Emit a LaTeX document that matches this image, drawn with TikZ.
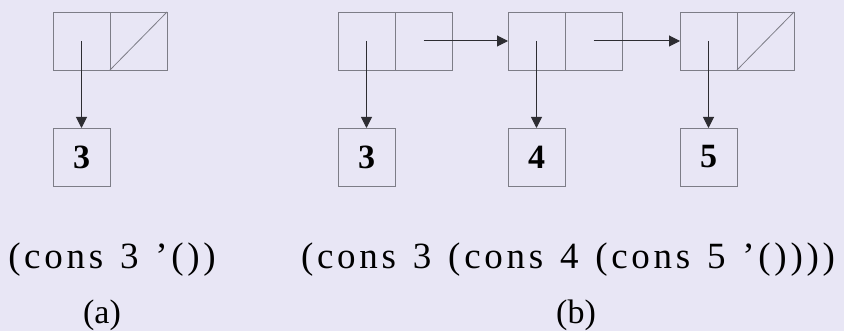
\documentclass[tikz,border=0pt]{standalone}
\usepackage{fontspec}
\setmainfont{Liberation Serif}
\newfontfamily\spacedfont[LetterSpace=10,WordSpace=1.3]{Liberation Serif}
\usetikzlibrary{arrows.meta}
\definecolor{bgcol}{RGB}{232,230,245}
\definecolor{cellline}{RGB}{125,125,135}
\definecolor{arrowcol}{RGB}{45,45,50}
\tikzset{
  cellpart/.style={draw=cellline, line width=0.8pt, minimum width=57pt, minimum height=58pt, inner sep=0pt, outer sep=0pt},
  valbox/.style={draw=cellline, line width=0.8pt, minimum width=57pt, minimum height=58pt, inner sep=0pt, outer sep=0pt, font=\fontsize{34}{38}\selectfont\bfseries},
  ptr/.style={draw=arrowcol, line width=1pt, -{Triangle[length=11pt,width=11pt]}},
  nilline/.style={draw=cellline, line width=0.8pt},
  expr/.style={font=\spacedfont\fontsize{37}{42}\selectfont, inner sep=0pt},
  caption/.style={font=\fontsize{34}{38}\selectfont, inner sep=0pt}
}
\begin{document}
\begin{tikzpicture}[x=1pt,y=-1pt]
\fill[bgcol] (0,0) rectangle (844,331);
\useasboundingbox (0,0) rectangle (844,331);
% (a)
\node[cellpart] (acar) at (81.5,41) {};
\node[cellpart] (acdr) at (138.5,41) {};
\draw[nilline] (acdr.south west) -- (acdr.north east);
\node[valbox] (a3) at (81.5,157) {3};
\draw[ptr] (acar.center) -- (a3.north);
% (b)
\node[cellpart] (b1car) at (366.5,41) {};
\node[cellpart] (b1cdr) at (423.5,41) {};
\node[cellpart] (b2car) at (536.5,41) {};
\node[cellpart] (b2cdr) at (593.5,41) {};
\node[cellpart] (b3car) at (708.5,41) {};
\node[cellpart] (b3cdr) at (765.5,41) {};
\draw[nilline] (b3cdr.south west) -- (b3cdr.north east);
\node[valbox] (b3) at (366.5,157) {3};
\node[valbox] (b4) at (536.5,157) {4};
\node[valbox] (b5) at (708.5,157) {5};
\draw[ptr] (b1car.center) -- (b3.north);
\draw[ptr] (b2car.center) -- (b4.north);
\draw[ptr] (b3car.center) -- (b5.north);
\draw[ptr] (b1cdr.center) -- (b2car.west);
\draw[ptr] (b2cdr.center) -- (b3car.west);
% texts
\node[expr] (ta) at (112,260) {(cons 3 ’())};
\node[expr] (tb) at (568,260) {(cons 3 (cons 4 (cons 5 ’())))};
\node[caption] (la) at (102,315) {(a)};
\node[caption] (lb) at (576,315) {(b)};
\end{tikzpicture}
\end{document}
